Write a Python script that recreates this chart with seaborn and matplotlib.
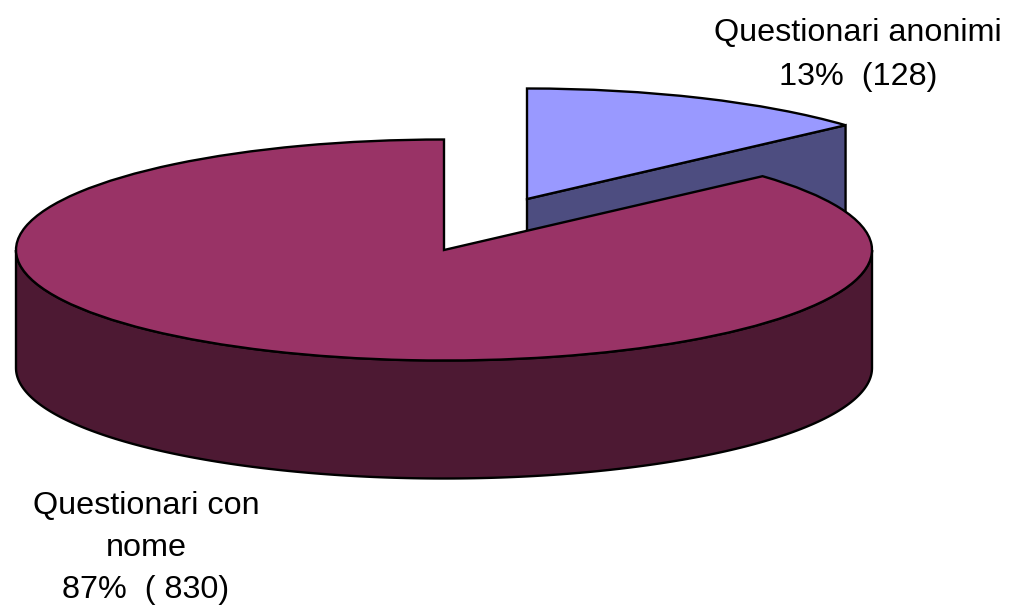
import numpy as np
import matplotlib
matplotlib.use('Agg')
import matplotlib.pyplot as plt
import seaborn as sns

# Values
counts = [128, 830]
labels = ['Questionari anonimi\n13%  (128)', 'Questionari con\nnome\n87%  ( 830)']
top_colors = ['#9999FF', '#993366']
side_colors = ['#4D4D80', '#4D1933']

sns.set_theme(style='white')
plt.rcParams['font.family'] = ['Liberation Sans', 'DejaVu Sans']

W, H = 1010, 605
# Layout of the tilted pie, in image pixels
cx, cy = 444, 250
rx, ry = 428, 110.5
depth = 118 / ry
shift = (83 / rx, 51 / ry)
lw = 1.7

fig = plt.figure(figsize=(W / 100, H / 100), dpi=100)
ax = fig.add_axes([0, 0, 1, 1])

# first wedge ends at twelve o'clock, second goes round the rest
start = 90 - 360 * counts[0] / sum(counts)
wedges, _ = ax.pie(counts, startangle=start, colors=sns.color_palette(top_colors),
                   wedgeprops=dict(edgecolor='black', linewidth=lw))
ax.set_aspect('auto')
ax.set_xlim(-cx / rx, (W - cx) / rx)
ax.set_ylim(-(H - cy) / ry, cy / ry)

small, big = wedges
small.set_center(shift)
small.set_zorder(2)
big.set_zorder(4)

# side wall of the pulled out slice: only the cut face shows
end = np.radians(small.theta1)
x0, y0 = shift
x1, y1 = x0 + np.cos(end), y0 + np.sin(end)
ax.fill([x0, x1, x1, x0], [y0, y1, y1 - depth, y0 - depth],
        fc=side_colors[0], ec='black', lw=lw, zorder=1)

# side wall of the big slice: front half of the ellipse
t = np.radians(np.linspace(180, 360, 200))
xs = np.cos(t)
ys = np.sin(t)
ax.fill(np.r_[xs, xs[::-1]], np.r_[ys, ys[::-1] - depth],
        fc=side_colors[1], ec='black', lw=lw, zorder=3)

fig.text(858 / W, 1 - 55 / H, labels[0], ha='center', va='center', fontsize=23.3,
         color='black', linespacing=1.6)
fig.text(146 / W, 1 - 548 / H, labels[1], ha='center', va='center', fontsize=23.3,
         color='black', linespacing=1.51)

fig.savefig('out.png', dpi=100, facecolor='white')
